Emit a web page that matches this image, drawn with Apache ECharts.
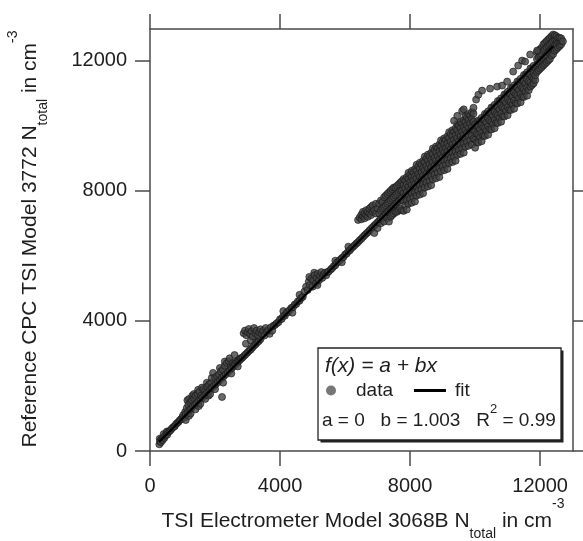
<!DOCTYPE html>
<html><head><meta charset="utf-8">
<script src="https://cdn.jsdelivr.net/npm/echarts@6/dist/echarts.min.js"></script>
<style>html,body{margin:0;padding:0;background:#fff}#c{width:583px;height:541px}</style>
</head><body><div id="c"></div>
<script>
// ---------- data ----------
const xTicks = [0, 4000, 8000, 12000];
const yTicks = [0, 4000, 8000, 12000];

// individual points [x, y]
const segLow = [[287,206],[300,380],[310,300],[335,270],[360,380],[385,330],[410,420],[420,520],[440,400],[470,470],[500,520],[520,600],[530,500],[560,590],[600,610],[640,650],[680,700],[720,740],[760,760],[800,830],[840,860],[880,900],[920,950],[960,980],[1000,1040]];

const seg1k = [[1020,1100],[1050,1020],[1080,1200],[1100,1130],[1100,950],[1130,1320],[1150,1560],[1160,1180],[1180,1420],[1200,1080],[1200,1600],[1210,1250],[1240,1500],[1250,1150],[1260,1300],[1290,1560],[1300,1700],[1320,1380],[1350,1620],[1350,1750],[1380,1420],[1400,1700],[1400,1280],[1430,1470],[1460,1760],[1480,1880],[1490,1530],[1500,1380],[1520,1820],[1550,1600],[1550,1450],[1580,1700],[1600,1950],[1610,1640],[1640,1900],[1670,1700],[1700,1850],[1700,1600],[1730,1760],[1750,2100],[1760,1980],[1790,1820],[1800,1700],[1820,2050],[1850,1880],[1850,1750],[1880,2100],[1900,2250],[1910,1950],[1940,2400],[1970,2010],[2000,2250],[2000,1900],[2030,2060],[2060,2300],[2090,2120],[2215,1660]];

const seg2k = [[2120,2350],[2150,2180],[2150,2550],[2180,2450],[2210,2250],[2240,2500],[2250,2100],[2270,2300],[2300,2620],[2300,2750],[2330,2360],[2360,2700],[2390,2420],[2420,2760],[2450,2480],[2450,2850],[2480,2600],[2500,2380],[2510,2540],[2540,2700],[2570,2600],[2600,2680],[2600,2950],[2630,2660],[2660,2750],[2690,2720],[2700,2600],[2720,2800],[2750,2780],[2780,2850],[2810,2840]];

const seg3k = [[2850,2880],[2900,2930],[2950,2980],[2950,3300],[3000,3030],[3050,3080],[3100,3120],[3100,3400],[3150,3180],[3200,3240],[3250,3280],[3250,3450],[3300,3340],[3350,3380],[3400,3440],
 [2880,3620],[2920,3700],[2960,3560],[3000,3650],[3040,3750],[3080,3600],[3120,3680],[3160,3520],[3200,3780],[3240,3620],[3280,3700],[3320,3560],[3360,3650],[3400,3740],[3440,3600],[3480,3690],[3520,3550],[3560,3780],[3600,3660],[3640,3720],[3680,3600],[3720,3800],[3760,3700],[3800,3850],[3850,3880],[3900,3930]];

const seg4k = [[3950,3960],[4000,4050],[4050,4060],[4100,4150],[4100,4300],[4150,4160],[4200,4250],[4250,4270],[4300,4340],[4350,4400],[4380,4250],[4400,4420],[4450,4500],[4500,4520],[4550,4600],[4600,4620],[4600,4800],[4650,4700],[4700,4740]];

const seg5k = [[4750,4900],[4800,5050],[4850,4950],[4880,5200],[4900,5350],[4920,5100],[4960,5300],[5000,5050],[5020,5250],[5050,5480],[5060,5400],[5100,5150],[5120,5320],[5150,5100],[5160,5450],[5200,5250],[5230,5380],[5270,5500],[5300,5320],[5340,5420],[5380,5480],[5420,5400],[5460,5500],[5500,5520]];

const seg6k = [[5560,5580],[5600,5620],[5650,5680],[5700,5710],[5700,5850],[5750,5790],[5800,5820],[5850,5880],[5900,5930],[5900,5800],[5950,5960],[6000,6040],[6050,6070],[6100,6140],[6100,6280],[6150,6170],[6200,6240],[6250,6280]];

const segAbove = [[10030,10800],[10100,10950],[10215,11077],[10460,11138],[10677,11200],[10830,11230],[10985,11354],[11170,11662],[11323,11846],[11446,12000],[11538,11970],[11692,12185],[11908,12308],
 [9350,10150],[9450,10300],[9600,10450],[9650,10500]];

// rows: [x, y1, y2, ...] — several points read at the same x
const rows7k = [
 [6300,6330],[6350,6380],[6400,6420,7100],[6450,6480,7180],[6500,6520,7120,7260],
 [6550,6580,7220,7350],[6600,6630,7150,7300],[6650,6680,7250,7400],[6700,6720,7200,7350],[6750,6780,7300,7450],
 [6800,6830,7250,7500],[6850,6880,7350,7550],[6900,6700,6930,7400],[6950,6980,7300,7600],[7000,6850,7030,7450],
 [7050,7080,7300,7600],[7100,7000,7130,7400,7700],[7150,7180,7450,7650],[7200,7050,7230,7500,7800],[7250,7280,7550,7850],
 [7300,7150,7330,7600,7900],[7350,7050,7380,7650,7950],[7400,7200,7430,7700,8000],[7450,7250,7480,7750,8050],[7500,7300,7530,7800,8100],
 [7550,7350,7580,7850,8100],[7600,7350,7630,7900,8150],[7650,7400,7680,7950,8200],[7700,7450,7730,8000,8250],[7750,7400,7780,8000,8300]];

const rows8k = [
 [7800,7380,7680,7930,8180,8360],[7850,7550,7830,8070,8320],[7900,7420,7700,7960,8200,8420],[7950,7600,7870,8120,8370,8550],
 [8000,7750,8020,8260,8500],[8050,7630,7930,8180,8430,8610],[8100,7800,8080,8320,8570],[8150,7670,7950,8210,8450,8670],
 [8200,7850,8120,8370,8620,8800],[8250,8000,8270,8510,8750],[8300,7880,8180,8430,8680,8860],[8350,8050,8330,8570,8820],
 [8400,7920,8200,8460,8700,8920],[8450,8100,8370,8620,8870,9050],[8500,8250,8520,8760,9000],[8550,8130,8430,8680,8930,9110],
 [8600,8300,8580,8820,9070],[8650,8170,8450,8710,8950,9170],[8700,8350,8620,8870,9120,9300],[8750,8500,8770,9010,9250],
 [8800,8380,8680,8930,9180,9360],[8850,8550,8830,9070,9320],[8900,8420,8700,8960,9200,9420],[8950,8600,8870,9120,9370,9550],
 [9000,8750,9020,9260,9500],[9050,8630,8930,9180,9430,9610],[9100,8800,9080,9320,9570],[9150,8670,8950,9210,9450,9670],
 [9200,8850,9120,9370,9620,9800],[9250,9000,9270,9510,9750],[9300,8880,9180,9430,9680,9860],[9350,9050,9330,9570,9820],
 [9400,8920,9200,9460,9700,9920],[9450,9100,9370,9620,9870,10050],[9500,9250,9520,9760,10000],[9550,9130,9430,9680,9930,10110],
 [9600,9300,9580,9820,10070],[9650,9170,9450,9710,9950,10170],[9700,9350,9620,9870,10120,10300],[9750,9500,9770,10010,10250],
 [9800,9380,9680,9930,10180,10360],[9850,9550,9830,10070,10320],[9900,9420,9700,9960,10200,10420],[9950,9600,9870,10120,10370,10550]];

const rows10k = [
 [10000,9320,9570,9820,10040],[10050,9490,9750,9990],[10100,9480,9720,9970,10160],[10150,9650,9900,10150],
 [10200,9520,9770,10020,10240],[10250,9690,9950,10190],[10300,9680,9920,10170,10360],[10350,9850,10100,10350],
 [10400,9720,9970,10220,10440],[10450,9890,10150,10390],[10500,9880,10120,10370,10560],[10550,10050,10300,10550],
 [10600,9920,10170,10420,10640],[10650,10090,10350,10590],[10700,10080,10320,10570,10760],[10750,10250,10500,10750],
 [10800,10120,10370,10620,10840],[10850,10290,10550,10790],[10900,10280,10520,10770,10960],[10950,10450,10700,10950],
 [11000,10320,10570,10820,11040],[11050,10490,10750,10990],[11100,10480,10720,10970,11160],[11150,10650,10900,11150],
 [11200,10520,10770,11020,11240],[11250,10690,10950,11190],[11300,10680,10920,11170,11360],[11350,10850,11100,11350],
 [11400,10720,10970,11220,11440],[11450,10890,11150,11390],[11500,10880,11120,11370,11560],[11550,11050,11300,11550],
 [11600,10920,11170,11420,11640],[11650,11090,11350,11590],[11700,11200,11320,11570,11760],[11750,11250,11500,11750],
 [11800,11300,11450,11620,11840],[11850,11400,11550,11790]];

const rowsTop = [
 [11900,11650,11850,12050,12250],[11950,11700,11900,12100,12300],[12000,11750,11950,12150,12350],[12050,11800,12000,12200,12400],
 [12100,11850,12050,12300,12500],[12150,11900,12100,12350,12550],[12200,11950,12150,12400,12600],[12250,12000,12250,12450,12650],
 [12300,12050,12300,12500,12700],[12350,12150,12350,12550,12750],[12400,12200,12400,12600,12800],[12450,12300,12450,12650,12780],
 [12500,12350,12500,12650,12750],[12550,12400,12550,12700],[12600,12450,12600,12700],[12650,12500,12600,12680],[12700,12590]];

const fitLine = [[280, 281], [12400, 12437]];
const fitA = '0', fitB = '1.003', fitR2 = '0.99';

const fromRows = rows => rows.flatMap(([x, ...ys]) => ys.map(y => [x, y]));
const allPoints = [].concat(segLow, seg1k, seg2k, seg3k, seg4k, seg5k, seg6k,
  fromRows(rows7k), fromRows(rows8k), fromRows(rows10k), fromRows(rowsTop), segAbove);

// ---------- chart ----------
const FONT = '"Liberation Sans", Arial, Helvetica, sans-serif';
const AX = '#4a4a4a';
const TXT = '#1e1e1e';
const chart = echarts.init(document.getElementById('c'), null, {renderer: 'canvas'});

function xAx(pos, labels) {
  return {
    type: 'value', position: pos, min: 0, max: 13010,
    axisLine: {show: true, onZero: false, lineStyle: {color: AX, width: 1.5}},
    axisTick: {show: true, inside: false, length: 15, customValues: xTicks, lineStyle: {color: AX, width: 1.5}},
    axisLabel: {show: labels, customValues: xTicks, margin: 25, fontSize: 20, color: TXT, fontFamily: FONT, formatter: v => String(v)},
    splitLine: {show: false}
  };
}
function yAx(pos, labels) {
  return {
    type: 'value', position: pos, min: 0, max: 12970,
    axisLine: {show: true, onZero: false, lineStyle: {color: AX, width: 1.5}},
    axisTick: {show: true, inside: false, length: 15, customValues: yTicks, lineStyle: {color: AX, width: 1.5}},
    axisLabel: {show: labels, customValues: yTicks, margin: 23, fontSize: 20, color: TXT, fontFamily: FONT, formatter: v => String(v)},
    splitLine: {show: false}
  };
}

const titleRich = {
  m: {fontSize: 21, fontFamily: FONT, fill: TXT, color: TXT, verticalAlign: 'middle'},
  s: {fontSize: 14, fontFamily: FONT, fill: TXT, color: TXT, verticalAlign: 'middle', padding: [27, 0, 0, 0]},
  p: {fontSize: 14, fontFamily: FONT, fill: TXT, color: TXT, verticalAlign: 'middle', padding: [0, 0, 33, 0]}
};

chart.setOption({
  animation: false,
  grid: {left: 150, top: 29, width: 423, height: 422},
  xAxis: [xAx('bottom', true), xAx('top', false)],
  yAxis: [yAx('left', true), yAx('right', false)],
  legend: {
    left: 326, top: 381, padding: 0, itemWidth: 32, itemHeight: 10, itemGap: 21, z: 30,
    textStyle: {fontSize: 19, fontFamily: FONT, color: TXT, padding: [0, 0, 0, 4]},
    data: [
      {name: 'data', icon: 'circle', itemStyle: {color: '#555', borderWidth: 0}},
      {name: 'fit', icon: 'path://M0,0 L32,0 L32,3 L0,3 Z', itemStyle: {color: '#000', borderWidth: 0}}
    ]
  },
  series: [
    {type: 'scatter', name: 'data', data: allPoints, symbolSize: 7, z: 2,
     itemStyle: {color: '#444444', borderColor: '#141414', borderWidth: 0.8}},
    {type: 'line', name: 'fit', data: fitLine, symbol: 'none', z: 3,
     itemStyle: {color: '#000'}, lineStyle: {color: '#000', width: 2.2}}
  ],
  graphic: [
    {type: 'rect', z: 5, shape: {x: 320.5, y: 350.5, width: 243, height: 92}, style: {fill: '#222'}},
    {type: 'rect', z: 6, shape: {x: 318, y: 348, width: 243, height: 92}, style: {fill: '#fff', stroke: '#222', lineWidth: 1.3}},
    {type: 'text', z: 30, x: 325, y: 366, style: {text: 'f(x) = a + bx', font: 'italic 21px "Liberation Sans", Arial, sans-serif', fill: TXT, align: 'left', verticalAlign: 'middle'}},
    {type: 'text', z: 30, x: 322, y: 421, style: {
      text: '{t|a = ' + fitA + '   b = ' + fitB + '   R}{q|2}{t| = ' + fitR2 + '}',
      align: 'left', verticalAlign: 'middle',
      rich: {
        t: {fontSize: 19, fontFamily: FONT, fill: TXT, color: TXT, verticalAlign: 'middle'},
        q: {fontSize: 13, fontFamily: FONT, fill: TXT, color: TXT, verticalAlign: 'middle', padding: [0, 0, 24, 0]}
      }}},
    {type: 'text', z: 30, x: 363, y: 521, style: {
      text: '{m|TSI Electrometer Model 3068B N}{s|total}{m| in cm}{p|-3}',
      align: 'center', verticalAlign: 'middle', rich: titleRich}},
    {type: 'text', z: 30, x: 30, y: 239, rotation: Math.PI / 2, style: {
      text: '{m|Reference CPC TSI Model 3772 N}{s|total}{m| in cm}{p|-3}',
      align: 'center', verticalAlign: 'middle', rich: titleRich}}
  ]
});
</script></body></html>
